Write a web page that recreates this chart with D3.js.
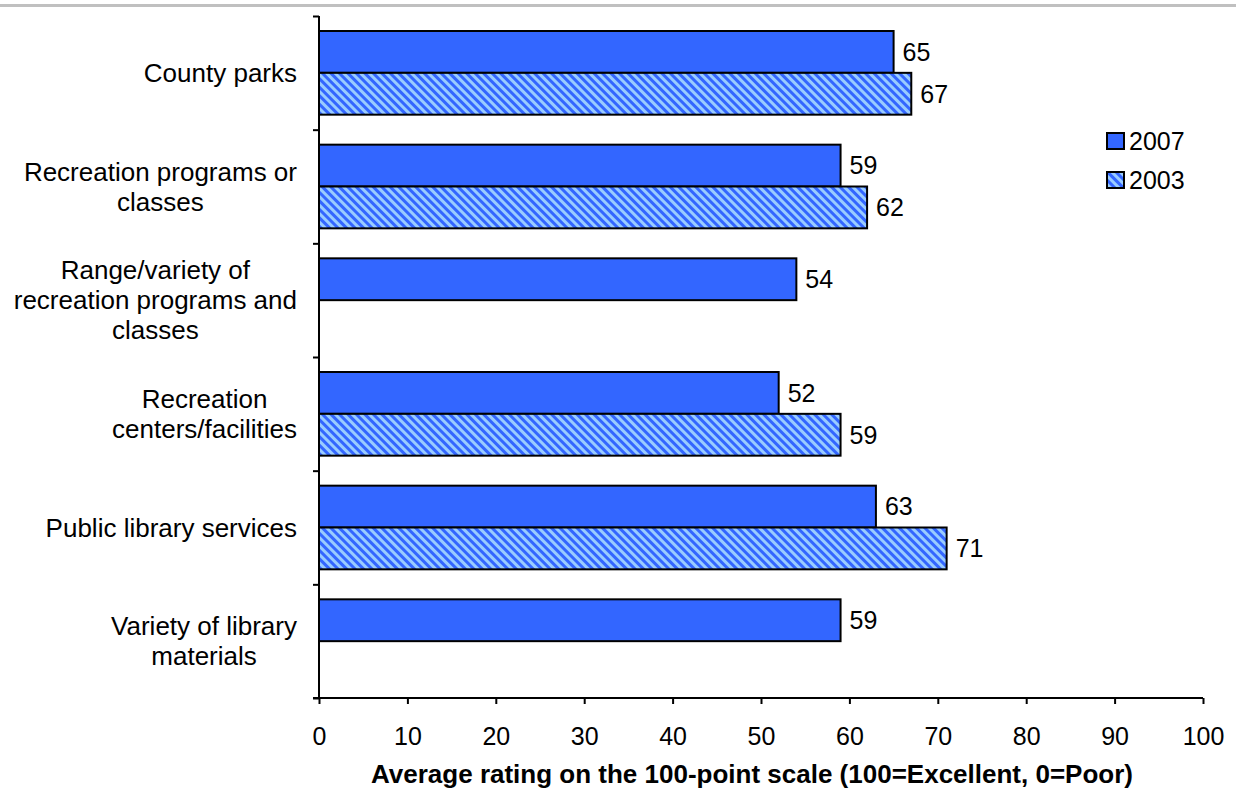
<!DOCTYPE html>
<html><head><meta charset="utf-8">
<script src="https://cdn.jsdelivr.net/npm/d3@7"></script>
<style>
html,body{margin:0;padding:0;background:#fff;}
svg{display:block;font-family:"Liberation Sans",Arial,sans-serif;}
</style></head>
<body>
<svg id="chart" width="1236" height="794"></svg>
<script>
const categories = [
  ["County parks"],
  ["Recreation programs or", "classes"],
  ["Range/variety of", "recreation programs and", "classes"],
  ["Recreation", "centers/facilities"],
  ["Public library services"],
  ["Variety of library", "materials"]
];
const seriesNames = ["2007", "2003"];
const values2007 = [65, 59, 54, 52, 63, 59];
const values2003 = [67, 62, null, 59, 71, null];
const xTicks = [0,10,20,30,40,50,60,70,80,90,100];
const axisTitle = "Average rating on the 100-point scale (100=Excellent, 0=Poor)";

(function(){
const svg = d3.select("#chart");
const defs = svg.append("defs");
const pat = defs.append("pattern").attr("id","hatch").attr("patternUnits","userSpaceOnUse")
  .attr("width",6).attr("height",6).attr("patternTransform","rotate(-45)");
pat.append("rect").attr("width",6).attr("height",6).attr("fill","#99ccff");
pat.append("rect").attr("width",3).attr("height",6).attr("fill","#3366ff");

// top border
svg.append("rect").attr("x",0).attr("y",4).attr("width",1236).attr("height",3).attr("fill","#c0c0c0");

const mLeft = 319, mRight = 1203, mTop = 16, mBottom = 698;
const numSize = 25, labSize = 26;
const x = d3.scaleLinear().domain([0,100]).range([mLeft,mRight]);
const idx = d3.range(categories.length);
const y0 = d3.scaleBand().domain(idx).range([mTop,mBottom]).padding(0);
const y1 = d3.scaleBand().domain(seriesNames).range([15, y0.bandwidth()-15]).padding(0);

const data = idx.map(i => ({i, vals:[{s:"2007",v:values2007[i]},{s:"2003",v:values2003[i]}]}));
const fills = {"2007":"#3366ff","2003":"url(#hatch)"};

const g = svg.selectAll("g.grp").data(data).enter().append("g").attr("class","grp")
  .attr("transform", d => `translate(0,${y0(d.i)})`);
g.selectAll("rect").data(d => d.vals.filter(e => e.v != null)).enter().append("rect")
  .attr("x", x(0)).attr("y", e => y1(e.s))
  .attr("width", e => x(e.v)-x(0)).attr("height", y1.bandwidth())
  .attr("fill", e => fills[e.s]).attr("stroke","#000").attr("stroke-width",2);
g.selectAll("text.val").data(d => d.vals.filter(e => e.v != null)).enter().append("text")
  .attr("class","val").attr("x", e => x(e.v)+9).attr("y", e => y1(e.s)+y1.bandwidth()/2)
  .attr("dy","0.35em").attr("font-size",numSize).attr("fill","#000").text(e => e.v);

// x axis
const xAxis = d3.axisBottom(x).tickValues(xTicks).tickSize(6).tickPadding(23).tickFormat(d3.format("d"));
const xg = svg.append("g").attr("transform",`translate(0,${mBottom})`).call(xAxis);
xg.select(".domain").attr("stroke","#000").attr("stroke-width",2).attr("d",`M${mLeft-6},0H${mRight}`);
xg.selectAll(".tick line").attr("stroke","#000").attr("stroke-width",2);
xg.selectAll(".tick text").attr("font-size",numSize).attr("font-family","Liberation Sans, Arial, sans-serif")
  .attr("fill","#000").attr("dy",null);
xg.selectAll(".tick text").attr("y",47);

// y axis
const yEdges = idx.map(i => y0(i)).concat([mBottom]);
const yLin = d3.scaleLinear().domain([mTop,mBottom]).range([mTop,mBottom]);
const yAxis = d3.axisLeft(yLin).tickValues(yEdges).tickSize(6).tickFormat("");
const yg = svg.append("g").attr("transform",`translate(${mLeft},0)`).call(yAxis);
yg.select(".domain").attr("stroke","#000").attr("stroke-width",2).attr("d",`M0,${mTop}V${mBottom}`);
yg.selectAll(".tick line").attr("stroke","#000").attr("stroke-width",2);

// category labels
const lineH = 30;
categories.forEach((lines,i) => {
  const cy = y0(i) + y0.bandwidth()/2;
  const t = svg.append("g");
  const texts = lines.map((ln,k) => t.append("text")
    .attr("y", cy + (k - (lines.length-1)/2)*lineH).attr("dy","0.35em")
    .attr("text-anchor","middle").attr("font-size",labSize).attr("fill","#000").text(ln));
  const maxW = d3.max(texts, tx => tx.node().getComputedTextLength());
  texts.forEach(tx => tx.attr("x", 297 - maxW/2));
});

// axis title
svg.append("text").attr("x",752).attr("y",783).attr("text-anchor","middle")
  .attr("font-size",labSize).attr("font-weight","bold").attr("fill","#000").text(axisTitle);

// legend
const lg = svg.append("g");
seriesNames.forEach((s,k) => {
  const ly = 141 + k*39;
  lg.append("rect").attr("x",1107).attr("y",ly-8).attr("width",17).attr("height",16)
    .attr("fill", fills[s]).attr("stroke","#000").attr("stroke-width",2);
  lg.append("text").attr("x",1129).attr("y",ly).attr("dy","0.35em").attr("font-size",numSize).attr("fill","#000").text(s);
});
})();
</script>
</body></html>
